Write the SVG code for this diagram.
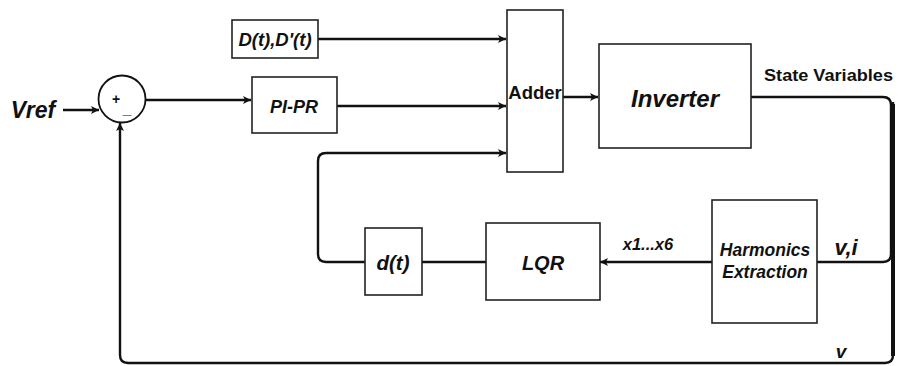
<svg xmlns="http://www.w3.org/2000/svg" width="909" height="366" viewBox="0 0 909 366">
<style>
.box{fill:#fff;stroke:#222;stroke-width:1.6}
.w{fill:none;stroke:#111;stroke-width:2.4}
.t{font-family:"Liberation Sans",Arial,sans-serif;font-weight:bold;font-style:italic;fill:#111;text-anchor:middle}
.tn{font-family:"Liberation Sans",Arial,sans-serif;font-weight:bold;fill:#111}
</style>
<defs>
<marker id="ah" viewBox="0 0 10 10" refX="10" refY="5" markerWidth="10" markerHeight="8" markerUnits="userSpaceOnUse" orient="auto">
<path d="M0,0 L10,5 L0,10 L2.5,5 Z" fill="#111"/>
</marker>
</defs>
<rect width="909" height="366" fill="#fff"/>
<g id="connectors">
<path class="w" d="M63 110 H99" marker-end="url(#ah)"/>
<path class="w" d="M145 100 H251" marker-end="url(#ah)"/>
<path class="w" d="M318 39 H506" marker-end="url(#ah)"/>
<path class="w" d="M337 106 H506" marker-end="url(#ah)"/>
<path class="w" d="M365 262 H326 Q318 262 318 254 V161 Q318 153 326 153 H506" marker-end="url(#ah)"/>
<path class="w" d="M563 97 H598" marker-end="url(#ah)"/>
<path class="w" d="M751 97 H883 Q891 97 891 105 V254 Q891 262 883 262 H817"/>
<path class="w" d="M893 102 V355 Q893 363 885 363 H128 Q120 363 120 355 V123" marker-end="url(#ah)"/>
<path class="w" style="stroke-width:4" d="M893 104 V356"/>
<path class="w" d="M712 262 H600" marker-end="url(#ah)"/>
<path class="w" d="M486 262 H422"/>
</g>
<g id="vref"><text class="t" x="33" y="118" font-size="23">Vref</text></g>
<g id="sum">
<circle cx="122" cy="99" r="23.5" fill="#fff" stroke="#111" stroke-width="1.8"/>
<text class="tn" x="116" y="104" font-size="14" text-anchor="middle">+</text>
<text class="tn" x="127" y="114" font-size="16" text-anchor="middle">_</text>
</g>
<g id="dt-box">
<rect class="box" x="232" y="20" width="86" height="38"/>
<text class="t" x="275" y="46" font-size="18.5">D(t),D'(t)</text>
</g>
<g id="pipr">
<rect class="box" x="252" y="77" width="85" height="56"/>
<text class="t" x="294" y="113" font-size="18">PI-PR</text>
</g>
<g id="adder">
<rect class="box" x="507" y="10" width="56" height="162"/>
<text class="tn" x="535" y="99" font-size="18.5" text-anchor="middle">Adder</text>
</g>
<g id="inverter">
<rect class="box" x="599" y="44" width="152" height="104"/>
<text class="t" x="675" y="107" font-size="24">Inverter</text>
</g>
<g id="state-label"><text class="tn" x="764" y="81" font-size="16.5" textLength="129" lengthAdjust="spacingAndGlyphs">State Variables</text></g>
<g id="harmonics">
<rect class="box" x="712" y="200" width="105" height="123"/>
<text class="t" x="765" y="256" font-size="17.5">Harmonics</text>
<text class="t" x="765" y="278" font-size="17.5">Extraction</text>
</g>
<g id="vi-label"><text class="t" x="846" y="255" font-size="22">v,i</text></g>
<g id="x-label"><text class="t" x="648" y="250" font-size="16.5">x1...x6</text></g>
<g id="lqr">
<rect class="box" x="486" y="223" width="114" height="77"/>
<text class="t" x="543" y="270" font-size="20">LQR</text>
</g>
<g id="d-box">
<rect class="box" x="365" y="228" width="57" height="67"/>
<text class="t" x="393" y="270" font-size="20.5">d(t)</text>
</g>
<g id="v-label"><text class="t" x="841" y="358" font-size="19">v</text></g>
</svg>
